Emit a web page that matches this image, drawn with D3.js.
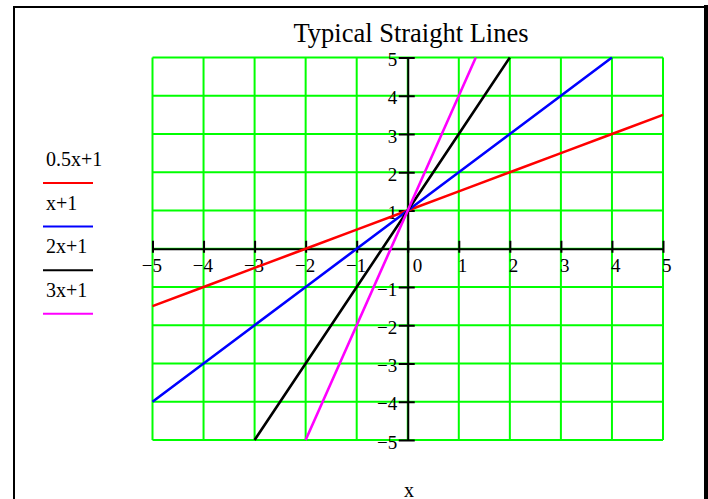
<!DOCTYPE html>
<html><head><meta charset="utf-8">
<script src="https://cdn.jsdelivr.net/npm/d3@7"></script>
<style>body{margin:0;background:#fff}svg{display:block}</style>
</head><body><svg id="c" width="708" height="499"></svg>
<script>
const title = "Typical Straight Lines";
const xLabel = "x";
const xTicks = [-5,-4,-3,-2,-1,0,1,2,3,4,5];
const yTicks = [-5,-4,-3,-2,-1,1,2,3,4,5];
const seriesNames = ["0.5x+1","x+1","2x+1","3x+1"];
const seriesColors = ["#ff0000","#0000ff","#000000","#ff00ff"];
const redX = [-5,-4,-3,-2,-1,0,1,2,3,4,5];
const redY = [-1.5,-1,-0.5,0,0.5,1,1.5,2,2.5,3,3.5];
const blueX = [-5,-4,-3,-2,-1,0,1,2,3,4];
const blueY = [-4,-3,-2,-1,0,1,2,3,4,5];
const blackX = [-3,-2,-1,0,1,2];
const blackY = [-5,-3,-1,1,3,5];
const magentaX = [-2,-1,0,1,1.333];
const magentaY = [-5,-2,1,4,5];

const seriesX = [redX, blueX, blackX, magentaX];
const seriesY = [redY, blueY, blackY, magentaY];

const svg = d3.select("#c");
const serif = "'Liberation Serif','Times New Roman',Times,serif";
const L = 152.5, R = 663, T = 57.5, B = 440;
const x = d3.scaleLinear().domain([-5,5]).range([L,R]);
const y = d3.scaleLinear().domain([-5,5]).range([B,T]);

// frame
svg.append("path").attr("d","M14,499V7H706V499").attr("fill","none")
  .attr("stroke","#000").attr("stroke-width",2);
svg.append("line").attr("x1",706).attr("x2",706).attr("y1",5).attr("y2",499)
  .attr("stroke","#000").attr("stroke-width",4);

// grid
const grid = svg.append("g").attr("stroke","#00ff00").attr("stroke-width",2);
grid.selectAll("line.v").data(xTicks).join("line").attr("class","v")
  .attr("x1",d=>x(d)).attr("x2",d=>x(d)).attr("y1",T).attr("y2",B);
grid.selectAll("line.h").data(xTicks).join("line").attr("class","h")
  .attr("y1",d=>y(d)).attr("y2",d=>y(d)).attr("x1",L).attr("x2",R);

const fmt = d => d<0 ? "\u2212"+Math.abs(d) : String(d);

// x axis
const gx = svg.append("g").attr("transform",`translate(0,${y(0)})`)
  .call(d3.axisBottom(x).tickValues(xTicks).tickSizeInner(-8).tickSizeOuter(0).tickFormat(fmt));
gx.select(".domain").attr("stroke","#000").attr("stroke-width",2);
gx.selectAll(".tick line").attr("y1",4).attr("y2",-8).attr("stroke","#000").attr("stroke-width",2);
gx.selectAll(".tick text").attr("font-family",serif).attr("font-size",19).attr("fill","#000")
  .attr("text-anchor","start").attr("dy",null).attr("y",23)
  .each(function(d){
    let xx;
    if (d===0) xx = 4.5;
    else if (d>0) xx = -1.5;
    else xx = -0.5 - this.getSubStringLength(0,1);
    d3.select(this).attr("x",xx);
  });

// y axis
const gy = svg.append("g").attr("transform",`translate(${x(0)},0)`)
  .call(d3.axisLeft(y).tickValues(yTicks).tickSizeInner(9).tickSizeOuter(0).tickFormat(fmt));
gy.select(".domain").attr("stroke","#000").attr("stroke-width",2);
gy.selectAll(".tick line").attr("x1",7).attr("x2",-9).attr("stroke","#000").attr("stroke-width",2);
gy.selectAll(".tick text").attr("font-family",serif).attr("font-size",19).attr("fill","#000")
  .attr("text-anchor","end").attr("dy",null).attr("x",-10.5).attr("y",8);

// data lines
svg.append("clipPath").attr("id","clip").append("rect")
  .attr("x",L-1).attr("y",T-1).attr("width",R-L+2).attr("height",B-T+2);
const line = d3.line().x(p=>x(p[0])).y(p=>y(p[1]));
const lines = svg.append("g").attr("clip-path","url(#clip)");
seriesX.forEach((xs,i)=>{
  const pts = xs.map((v,j)=>[v, seriesY[i][j]]);
  lines.append("path").datum(pts).attr("d",line).attr("fill","none")
    .attr("stroke",seriesColors[i]).attr("stroke-width",2.6);
});

// title
svg.append("text").attr("x",411).attr("y",41.5).attr("text-anchor","middle")
  .attr("font-family",serif).attr("font-size",26.5).text(title);

// x label
svg.append("text").attr("x",409).attr("y",496.5).attr("text-anchor","middle")
  .attr("font-family",serif).attr("font-size",20).text(xLabel);

// legend
const leg = svg.append("g");
seriesNames.forEach((n,i)=>{
  const by = 166 + i*43.6;
  leg.append("text").attr("x",46).attr("y",by).attr("font-family",serif)
    .attr("font-size",20).text(n);
  leg.append("line").attr("x1",43).attr("x2",93).attr("y1",by+17).attr("y2",by+17)
    .attr("stroke",seriesColors[i]).attr("stroke-width",2);
});
</script></body></html>
